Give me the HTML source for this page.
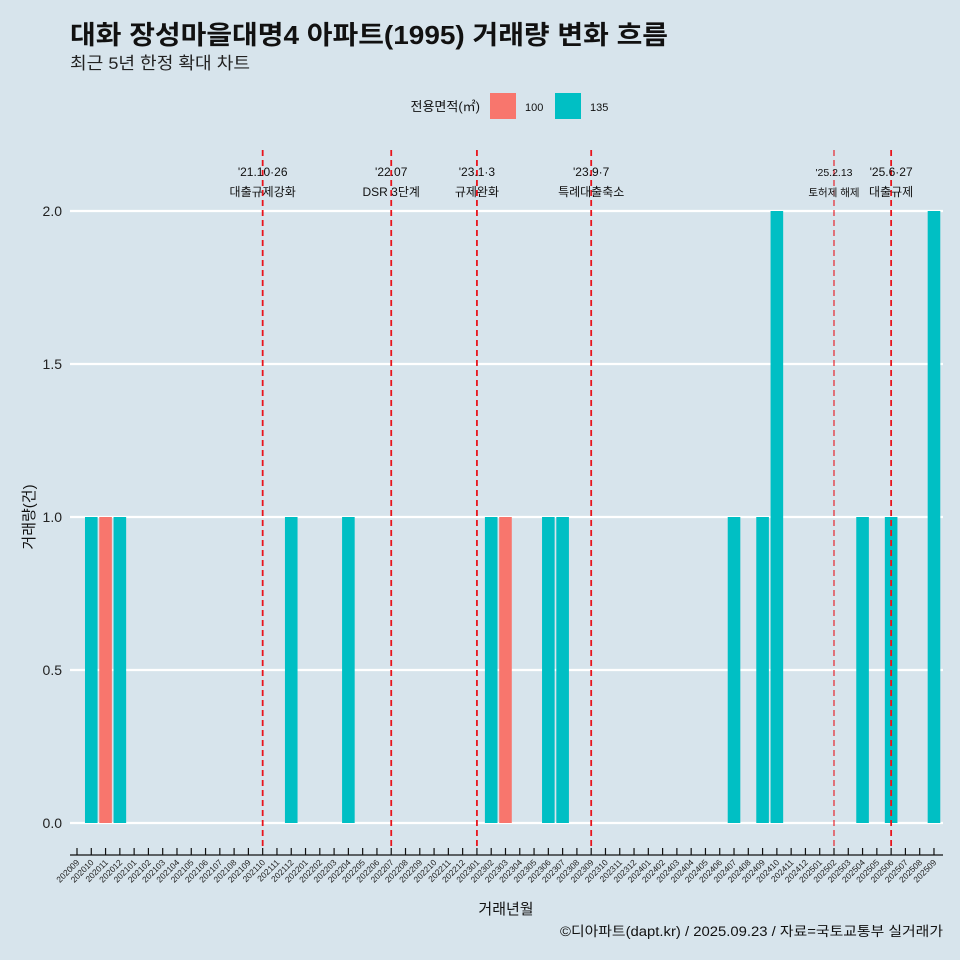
<!DOCTYPE html>
<html><head><meta charset="utf-8"><style>
body{margin:0;background:#d7e4ec;}
svg{display:block;font-family:"Liberation Sans","Noto Sans CJK KR",sans-serif;}
</style></head><body>
<svg id="c" width="960" height="960" viewBox="0 0 960 960">
<rect width="960" height="960" fill="#d7e4ec"/>
<text x="70" y="44" font-size="26" font-weight="bold" fill="#111" textLength="598" lengthAdjust="spacingAndGlyphs">대화 장성마을대명4 아파트(1995) 거래량 변화 흐름</text>
<text x="70" y="69" font-size="17" fill="#222" textLength="180" lengthAdjust="spacingAndGlyphs">최근 5년 한정 확대 차트</text>
<g>
<text x="480" y="111" font-size="13" text-anchor="end" fill="#111">전용면적(㎡)</text>
<rect x="490" y="93" width="26" height="26" fill="#f8766d"/>
<text x="525" y="111" font-size="11" fill="#111">100</text>
<rect x="555" y="93" width="26" height="26" fill="#00bfc4"/>
<text x="590" y="111" font-size="11" fill="#111">135</text>
</g>
<g id="plot"></g>
<text x="506" y="914" font-size="15" text-anchor="middle" fill="#111">거래년월</text>
<text transform="translate(34,517) rotate(-90)" font-size="15" text-anchor="middle" fill="#111">거래량(건)</text>
<text x="943" y="936" font-size="13.5" text-anchor="end" fill="#111" textLength="383" lengthAdjust="spacingAndGlyphs">©디아파트(dapt.kr) / 2025.09.23 / 자료=국토교통부 실거래가</text>
</svg>
<script>
const months=[];
for(let y=2020,m=9;y<2025||(y===2025&&m<=9);){months.push(''+y+(m<10?'0':'')+m);m++;if(m>12){m=1;y++;}}
const series100={"202011":1,"202303":1};
const series135={"202010":1,"202012":1,"202112":1,"202204":1,"202302":1,"202306":1,"202307":1,"202407":1,"202409":1,"202410":2,"202504":1,"202506":1,"202509":2};
const yTicks=[0,0.5,1,1.5,2];
const yTickLabels=["0.0","0.5","1.0","1.5","2.0"];
const events=[["202110","'21.10·26","대출규제강화",true],["202207","'22.07","DSR 3단계",true],["202301","'23.1·3","규제완화",true],["202309","'23.9·7","특례대출축소",true],["202502","'25.2.13","토허제 해제",false],["202506","'25.6·27","대출규제",true]];
const NS="http://www.w3.org/2000/svg";
const g=document.getElementById('plot');
const x0=77,step=14.283,L=70,R=943;
const xs=m=>x0+months.indexOf(m)*step;
const ys=v=>823-v*306;
function mk(t,a,p){const e=document.createElementNS(NS,t);for(const k in a)e.setAttribute(k,a[k]);(p||g).appendChild(e);return e;}
yTicks.forEach((v,i)=>{
 const l=mk('line',{x1:L,x2:R,y1:ys(v),y2:ys(v),stroke:'#fff','stroke-width':2.2});
 
 
 const t=mk('text',{x:62,y:ys(v)+5,'font-size':14,'text-anchor':'end',fill:'#222'});t.textContent=yTickLabels[i];
 
 
});
const bw=12.6;
[[series100,'#f8766d','100'],[series135,'#00bfc4','135']].forEach(([s,c,n])=>{
 for(const m in s){const r=mk('rect',{x:xs(m)-bw/2,y:ys(s[m]),width:bw,height:ys(0)-ys(s[m]),fill:c});
 
 }
});
const ax=mk('line',{x1:L,x2:R,y1:855,y2:855,stroke:'#111','stroke-width':1.3});


months.forEach(m=>{
 const x=xs(m);
 const tk=mk('line',{x1:x,x2:x,y1:848,y2:855,stroke:'#111','stroke-width':1.2});
 
 
 const t=mk('text',{transform:`translate(${x+3},${863}) rotate(-45)`,'font-size':8.5,'text-anchor':'end',fill:'#222'});t.textContent=m;
 
 
});
events.forEach(([m,d,lab,big])=>{
 const x=xs(m);
 const l=mk('line',{x1:x,x2:x,y1:150,y2:850,stroke:'#e8141c','stroke-width':big?1.8:1.1,'stroke-dasharray':'6,4'});
 
 
 const fs=big?12:10.5;
 const t1=mk('text',{x:x,y:176,'font-size':fs,'text-anchor':'middle',fill:'#111'});t1.textContent=d;
 
 
 const t2=mk('text',{x:x,y:196,'font-size':fs,'text-anchor':'middle',fill:'#111'});t2.textContent=lab;
 
 
});
</script>
</body></html>
